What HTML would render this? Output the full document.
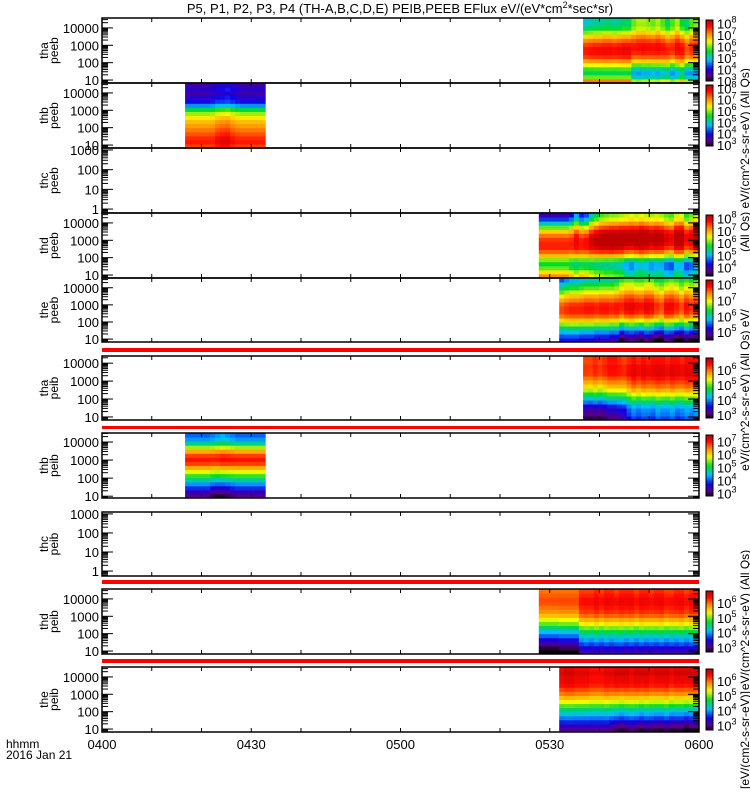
<!DOCTYPE html>
<html><head><meta charset="utf-8"><style>
html,body{margin:0;padding:0;background:#fff;}
svg{display:block;font-family:"Liberation Sans",sans-serif;}
</style></head><body>
<svg id="fig" width="750" height="800" viewBox="0 0 750 800">
<text x="400" y="13" text-anchor="middle" font-size="13">P5, P1, P2, P3, P4 (TH-A,B,C,D,E) PEIB,PEEB EFlux eV/(eV*cm<tspan dy="-5" font-size="9">2</tspan><tspan dy="5">*sec*sr)</tspan></text>
<g id="panels"></g>
<text x="6" y="748" font-size="12">hhmm</text>
<text x="6" y="759" font-size="12">2016 Jan 21</text>
</svg>
<script>
// ---- data ----
const timeTickLabels = ["0400","0430","0500","0530","0600"];
const timeTickMinutes = [0,30,60,90,120];

const thaPeebProfile = [7.2,6.0,5.5,5.8,6.4,7.0,7.5,7.7,7.7,7.5,7.1,6.6,6.0,5.4,5.1,5.0];
const thaPeebHi = [0,0.1,0.2,0.2,0.3,0.3,0.2,0.3,0.4,0.4,1.0,1.2,1.2,1.1,1.0,1.2,0.9,0.5,0.9,1.2,0.6,0.4,0.9,1.1];
const thaPeebLo = [0,0,0,0,0,0,0,0,0,0,1.0,1.1,1.0,1.0,0.9,1.0,0.8,0.6,1.1,0.9,0.4,1.0,1.1,1.2];

const thbPeebProfile = [7.5,7.7,7.6,7.4,7.2,7.0,6.8,6.5,6.1,5.5,4.6,4.0,3.8,3.6,3.8,3.6];
const thbPeebHi = [0,0,0,0,0,0.1,0.2,0.2,0.3,0.2,0.1,0,0,0,0,0];
const thbPeebLo = [0,0,0,0,0,0,-0.2,-0.3,-0.3,-0.1,0,0,0,0,0,0];

const thdPeebProfile = [7.2,6.7,6.1,5.8,6.2,6.9,7.4,7.7,7.7,7.6,7.3,6.8,6.1,5.3,4.5,4.0];
const thdPeebHi = [0,0,0,0,0,0,0.3,1.0,0.4,0.6,1.3,1.7,2.0,2.1,2.2,2.2,2.3,2.4,2.5,2.4,2.5,2.4,2.3,2.4,2.3,2.1,2.0,2.4,2.5,1.9,2.1,2.4];
const thdPeebLo = [0,0,0,0,0,0,0.3,0.6,0.3,0.4,0.6,0.8,0.9,1.0,1.0,1.1,1.2,1.6,1.8,1.5,1.4,1.5,1.7,1.6,1.6,1.9,2.0,1.5,1.6,2.0,1.9,1.6];

const thePeebProfile = [5.3,5.5,5.8,6.2,6.7,7.1,7.5,7.7,7.7,7.6,7.3,7.0,6.6,6.2,5.9,5.5];
const thePeebHi = [0,0.2,0.3,0.3,0.4,0.5,0.5,0.5,0.6,0.6,0.6,0.7,1.0,1.1,1.1,1.0,1.0,1.1,1.1,0.9,0.8,1.0,1.1,1.0,0.8,1.0,0.9,1.0];
const thePeebLo = [0,0,0,0,0.1,0.1,0.1,0.2,0.2,0.2,0.3,0.3,0.8,0.6,0.5,0.6,0.7,0.5,0.6,0.8,0.9,0.5,0.6,0.8,0.9,0.6,0.8,0.7];

const thaPeibProfile = [3.3,3.5,3.6,3.8,4.2,4.6,5.0,5.4,5.7,5.9,6.1,6.3,6.3,6.3,6.2,6.2];
const thaPeibHi = [0,0,0.1,0,0.1,0.2,0.2,0.1,0,0.1,0.2,0.1,0.2,0.1,0.2,0.2,0.2,0.1,0.2,0.2,0.1,0.2,0.2,0.2];
const thaPeibLo = [0.3,0.4,0.3,0.4,0.3,0.2,0.2,0.1,0,-0.3,-0.5,-0.4,-0.5,-0.5,-0.4,-0.6,-0.5,-0.5,-0.6,-0.4,-0.5,-0.6,-0.5,-0.6];

const thbPeibProfile = [3.2,3.5,3.9,4.3,4.8,5.3,5.8,6.3,6.8,7.0,6.8,6.3,5.6,4.8,4.3,4.1];
const thbPeibHi = [0,0,0,0,0,0.1,0.2,0.3,0.2,0.1,0,0,0,0,0,0];
const thbPeibLo = [0,0,0,0,0,0.2,0.3,0.3,0.2,0.1,0,0,0,0,0,0];

const thdPeibProfile = [3.0,3.2,3.5,3.8,4.1,4.4,4.8,5.2,5.5,5.8,6.0,6.1,6.2,6.2,6.1,6.0];
const thdPeibHi = [0,0,0,0,0,0,0,0,0.2,0.2,0.2,0.3,0.2,0.3,0.3,0.2,0.3,0.3,0.3,0.2,0.3,0.3,0.2,0.3,0.3,0.2,0.2,0.3,0.3,0.2,0.3,0.3];
const thdPeibLo = [0.4,0.4,0.4,0.4,0.3,0.3,0.3,0.3,-0.2,-0.3,-0.2,-0.3,-0.2,-0.3,-0.2,-0.3,-0.3,-0.2,-0.3,-0.2,-0.3,-0.2,-0.3,-0.2,-0.3,-0.2,-0.3,-0.2,-0.3,-0.2,-0.3,-0.3];

const thePeibProfile = [3.1,3.3,3.6,3.9,4.2,4.5,4.9,5.3,5.6,5.9,6.1,6.3,6.4,6.4,6.5,6.4];
const thePeibHi = [0.1,0.2,0.2,0.1,0.1,0.1,0,0,0,0.1,0.1,0.2,0.2,0.2,0.1,0.2,0.2,0.2,0.1,0.2,0.2,0.2,0.1,0.2,0.2,0.2,0.2,0.2];
const thePeibLo = [0,0,0,0,0,0,0,0,0,0,0.1,0.2,0.3,0.2,0.1,0.2,0.3,0.2,0.2,0.3,0.3,0.2,0.3,0.3,0.3,0.4,0.3,0.3];

// ---- layout ----
const X0 = 102, X1 = 699;
function xScale(min){ return X0 + (X1 - X0) * min / 120; }
const panels = [
 {sc:"tha",ty:"peeb",top:18,bot:83,yMin:0.83,yMax:4.57,t0:96.7,t1:120,prof:thaPeebProfile,hi:thaPeebHi,lo:thaPeebLo,cb:[3.0,8.3]},
 {sc:"thb",ty:"peeb",top:83,bot:148,yMin:0.83,yMax:4.57,t0:16.7,t1:32.8,prof:thbPeebProfile,hi:thbPeebHi,lo:thbPeebLo,cb:[2.9,8.3]},
 {sc:"thc",ty:"peeb",top:148,bot:213,yMin:-0.2,yMax:3.1,t0:null},
 {sc:"thd",ty:"peeb",top:213,bot:278,yMin:0.83,yMax:4.57,t0:87.8,t1:120,prof:thdPeebProfile,hi:thdPeebHi,lo:thdPeebLo,cb:[3.3,8.3]},
 {sc:"the",ty:"peeb",top:278,bot:342,yMin:0.83,yMax:4.57,t0:91.9,t1:120,prof:thePeebProfile,hi:thePeebHi,lo:thePeebLo,cb:[4.5,8.3]},
 {sc:"tha",ty:"peib",top:356,bot:420,yMin:0.83,yMax:4.4,t0:96.7,t1:120,prof:thaPeibProfile,hi:thaPeibHi,lo:thaPeibLo,cb:[2.8,6.8]},
 {sc:"thb",ty:"peib",top:433,bot:498,yMin:0.9,yMax:4.5,t0:16.7,t1:32.8,prof:thbPeibProfile,hi:thbPeibHi,lo:thbPeibLo,cb:[2.8,7.5]},
 {sc:"thc",ty:"peib",top:512,bot:576,yMin:-0.26,yMax:3.1,t0:null},
 {sc:"thd",ty:"peib",top:589,bot:654,yMin:0.83,yMax:4.57,t0:87.8,t1:120,prof:thdPeibProfile,hi:thdPeibHi,lo:thdPeibLo,cb:[2.7,6.8]},
 {sc:"the",ty:"peib",top:667,bot:732,yMin:0.83,yMax:4.57,t0:91.9,t1:120,prof:thePeibProfile,hi:thePeibHi,lo:thePeibLo,cb:[2.7,6.8]}
];
const redBars = [[348,352],[426,429],[580,584],[659,663]];
const stops = [[0,[0,0,0]],[0.08,[90,0,130]],[0.2,[20,0,230]],[0.35,[0,190,255]],[0.5,[0,220,40]],[0.65,[250,250,0]],[0.78,[255,140,0]],[0.9,[255,10,0]],[1,[190,0,0]]];
function cmap(f){
  f=Math.max(0,Math.min(1,f));
  for(let i=1;i<stops.length;i++){ if(f<=stops[i][0]){ const a=stops[i-1],b=stops[i]; const t=(f-a[0])/(b[0]-a[0]);
    const c=a[1].map((v,k)=>Math.round(v+(b[1][k]-v)*t)); return `rgb(${c[0]},${c[1]},${c[2]})`; } }
  return "rgb(190,0,0)";
}
const NS="http://www.w3.org/2000/svg";
const root=document.getElementById("panels");
function mk(tag,attrs,parent){ const e=document.createElementNS(NS,tag); for(const k in attrs) e.setAttribute(k,attrs[k]); (parent||root).appendChild(e); return e; }

panels.forEach((p,pi)=>{
  const g=mk("g",{});
  
  
  const yS=v=>p.bot-(v-p.yMin)/(p.yMax-p.yMin)*(p.bot-p.top);
  if(p.t0!==null){
    const nT=p.hi.length, nE=p.prof.length, dt=(p.t1-p.t0)/nT, de=(p.yMax-p.yMin)/nE;
    for(let t=0;t<nT;t++){ for(let e=0;e<nE;e++){
      const fr=e/(nE-1);
      const v=p.prof[e]+p.hi[t]*fr-p.lo[t]*(1-fr);
      const xa=xScale(p.t0+t*dt), xb=xScale(p.t0+(t+1)*dt);
      const ya=yS(p.yMin+(e+1)*de), yb=yS(p.yMin+e*de);
      const r=mk("rect",{x:xa.toFixed(2),y:ya.toFixed(2),width:(xb-xa+0.5).toFixed(2),height:(yb-ya+0.5).toFixed(2),fill:cmap((v-p.cb[0])/(p.cb[1]-p.cb[0]))},g);
      
      
    }}
    const cbg=mk("g",{},g);
    
    
    const H=p.bot-p.top-4, n=40;
    for(let i=0;i<n;i++){ mk("rect",{x:706,y:(p.top+2+H-(i+1)*H/n).toFixed(2),width:7,height:(H/n+0.5).toFixed(2),fill:cmap((i+0.5)/n)},cbg); }
    mk("rect",{x:706,y:p.top+2,width:7,height:H,fill:"none",stroke:"#000","stroke-width":1},cbg);
    for(let ex=Math.ceil(p.cb[0]);ex<=Math.floor(p.cb[1]);ex++){
      const yy=p.top+2+H-(ex-p.cb[0])/(p.cb[1]-p.cb[0])*H;
      const tx=mk("text",{x:717,y:(yy+5).toFixed(1),"font-size":"13"},cbg);
      tx.textContent="10";
      const sp=mk("tspan",{dy:"-6","font-size":"9"},tx); sp.textContent=String(ex);
    }
  }
  mk("rect",{x:X0,y:p.top,width:X1-X0,height:p.bot-p.top,fill:"none",stroke:"#000","stroke-width":1.5},g);
  for(let d=Math.floor(p.yMin)-1; d<=Math.ceil(p.yMax); d++){
    for(let m=1;m<10;m++){
      const v=d+Math.log10(m); if(v<p.yMin||v>p.yMax) continue;
      const yy=yS(v), L=(m===1)?11:6;
      mk("line",{x1:X0,x2:X0+L,y1:yy,y2:yy,stroke:"#000","stroke-width":1},g);
      mk("line",{x1:X1,x2:X1-L,y1:yy,y2:yy,stroke:"#000","stroke-width":1},g);
      if(m===1){ const tx=mk("text",{x:99,y:(yy+5).toFixed(1),"font-size":"13","text-anchor":"end"},g); tx.textContent=String(Math.round(Math.pow(10,d)));
          }
    }
  }
  for(let mn=10;mn<120;mn+=10){ const xx=xScale(mn);
    mk("line",{x1:xx,x2:xx,y1:p.top,y2:p.top+4,stroke:"#000"},g);
    mk("line",{x1:xx,x2:xx,y1:p.bot,y2:p.bot-4,stroke:"#000"},g); }
  const cy=(p.top+p.bot)/2;
  const l1=mk("text",{x:0,y:0,"font-size":"12","text-anchor":"middle",transform:`translate(48,${cy}) rotate(-90)`},g); l1.textContent=p.sc;
   
  const l2=mk("text",{x:0,y:0,"font-size":"12","text-anchor":"middle",transform:`translate(58,${cy}) rotate(-90)`},g); l2.textContent=p.ty;
   
});
redBars.forEach(b=>{ const r=mk("rect",{x:X0,y:b[0],width:X1-X0,height:b[1]-b[0],fill:"#ff0000"});
    });
timeTickLabels.forEach((s,i)=>{ const t=mk("text",{x:xScale(timeTickMinutes[i]),y:749,"font-size":"13","text-anchor":"middle"}); t.textContent=s;
    });
const rl=[[160,"(All Qs) eV/(cm^2-s-sr-eV) (All Qs)"],[390,"eV/(cm^2-s-sr-eV) (All Qs) eV/"],[620,"eV/(cm^2-s-sr-eV) (All Qs)"],[740,"[eV/(cm2-s-sr-eV)]"]];
rl.forEach(r=>{ const t=mk("text",{x:0,y:0,"font-size":"12","text-anchor":"middle",transform:`translate(749,${r[0]}) rotate(-90)`}); t.textContent=r[1];
    });
</script>
</body></html>
